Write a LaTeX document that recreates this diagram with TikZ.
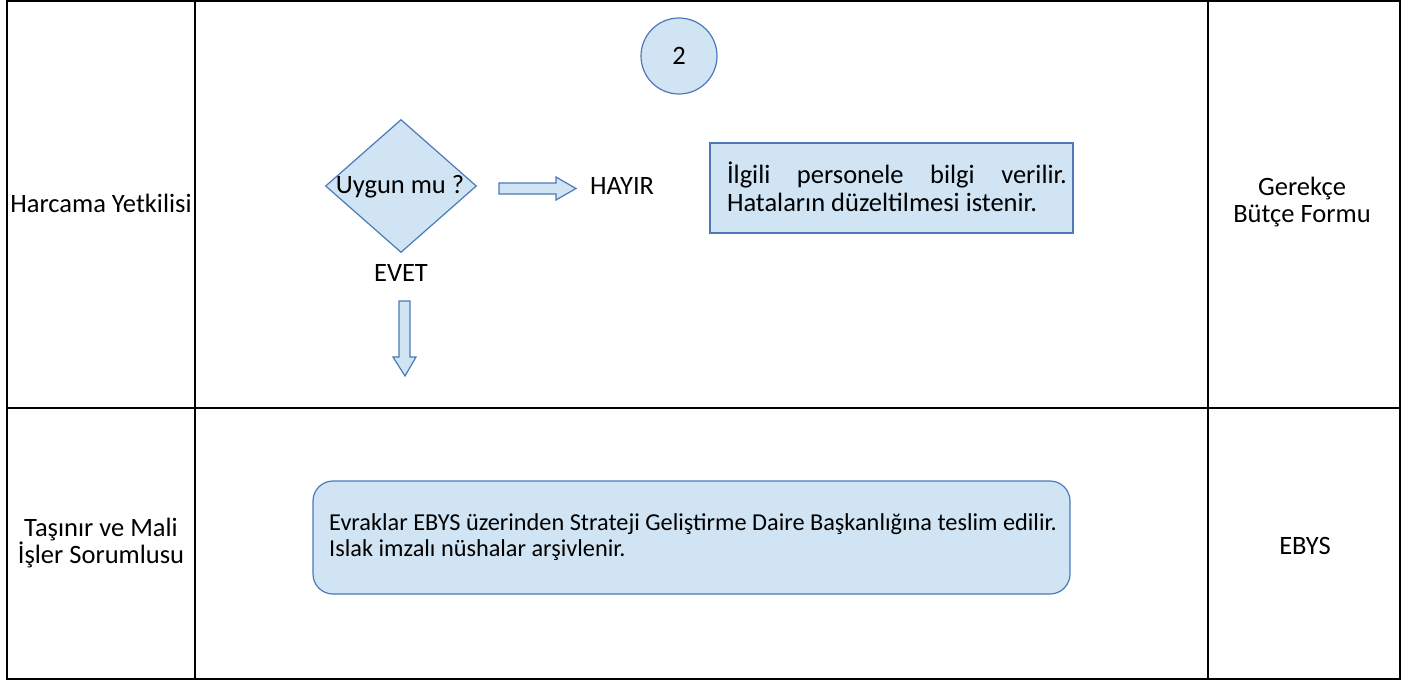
\documentclass[tikz,border=0pt]{standalone}
\usepackage{fontspec}
\setmainfont{Carlito}
\usetikzlibrary{shapes.geometric}
\definecolor{boxfill}{RGB}{208,228,243}
\definecolor{boxline}{RGB}{74,122,184}
\begin{document}
\begin{tikzpicture}[x=1pt,y=-1pt,
  txt/.style={font=\fontsize{26.5}{27}\selectfont, inner sep=0pt, align=center},
  shp/.style={draw=boxline, fill=boxfill, line width=1.2pt},
  grid/.style={line width=2pt, black}]
\useasboundingbox (0,0) rectangle (1408,681);
% table
\draw[grid] (7,1) rectangle (1400,679);
\draw[grid] (195,1) -- (195,679);
\draw[grid] (1208,1) -- (1208,679);
\draw[grid] (7,408) -- (1400,408);
% lane labels
\node[txt] (l1) at (101,203) {Harcama Yetkilisi};
\node[txt] (l2) at (101,543) {Taşınır ve Mali\\İşler Sorumlusu};
\node[txt] (r1) at (1302,202) {Gerekçe\\Bütçe Formu};
\node[txt] (r2) at (1305,546) {EBYS};
% connector circle
\node[shp, circle, minimum size=76pt, inner sep=0pt, font=\fontsize{26.5}{27}\selectfont] (c2) at (679,56) {2};
% decision
\node[shp, diamond, minimum width=151pt, minimum height=133pt, inner sep=0pt] (d) at (401,186) {};
\node[txt] (dq) at (400,187) {Uygun mu ?};
\node[txt] (evet) at (401,273) {EVET};
\node[txt, anchor=west] (hayir) at (590,186) {HAYIR};
% block arrows
\filldraw[shp] (499,183) -- (556,183) -- (556,177) -- (576,188.5) -- (556,200) -- (556,194) -- (499,194) -- cycle;
\filldraw[shp] (399,301) -- (410,301) -- (410,357) -- (416,357) -- (405,376) -- (393,357) -- (399,357) -- cycle;
% info box
\node[shp, rectangle, minimum width=363pt, minimum height=90pt, inner sep=0pt] (info) at (891.5,188) {};
\node[font=\fontsize{26.5}{28}\selectfont, text width=340pt, align=justify, inner sep=0pt] (infot) at (897,187) {İlgili personele bilgi verilir.\linebreak Hataların düzeltilmesi istenir.};
% process box
\node[shp, rectangle, rounded corners=20pt, minimum width=757pt, minimum height=113pt, inner sep=0pt] (proc) at (691.5,537.5) {};
\node[font=\fontsize{24.3}{25.5}\selectfont, anchor=west, align=left, inner sep=0pt] (proct) at (329,537) {Evraklar EBYS üzerinden Strateji Geliştirme Daire Başkanlığına teslim edilir.\\Islak imzalı nüshalar arşivlenir.};
\end{tikzpicture}
\end{document}
